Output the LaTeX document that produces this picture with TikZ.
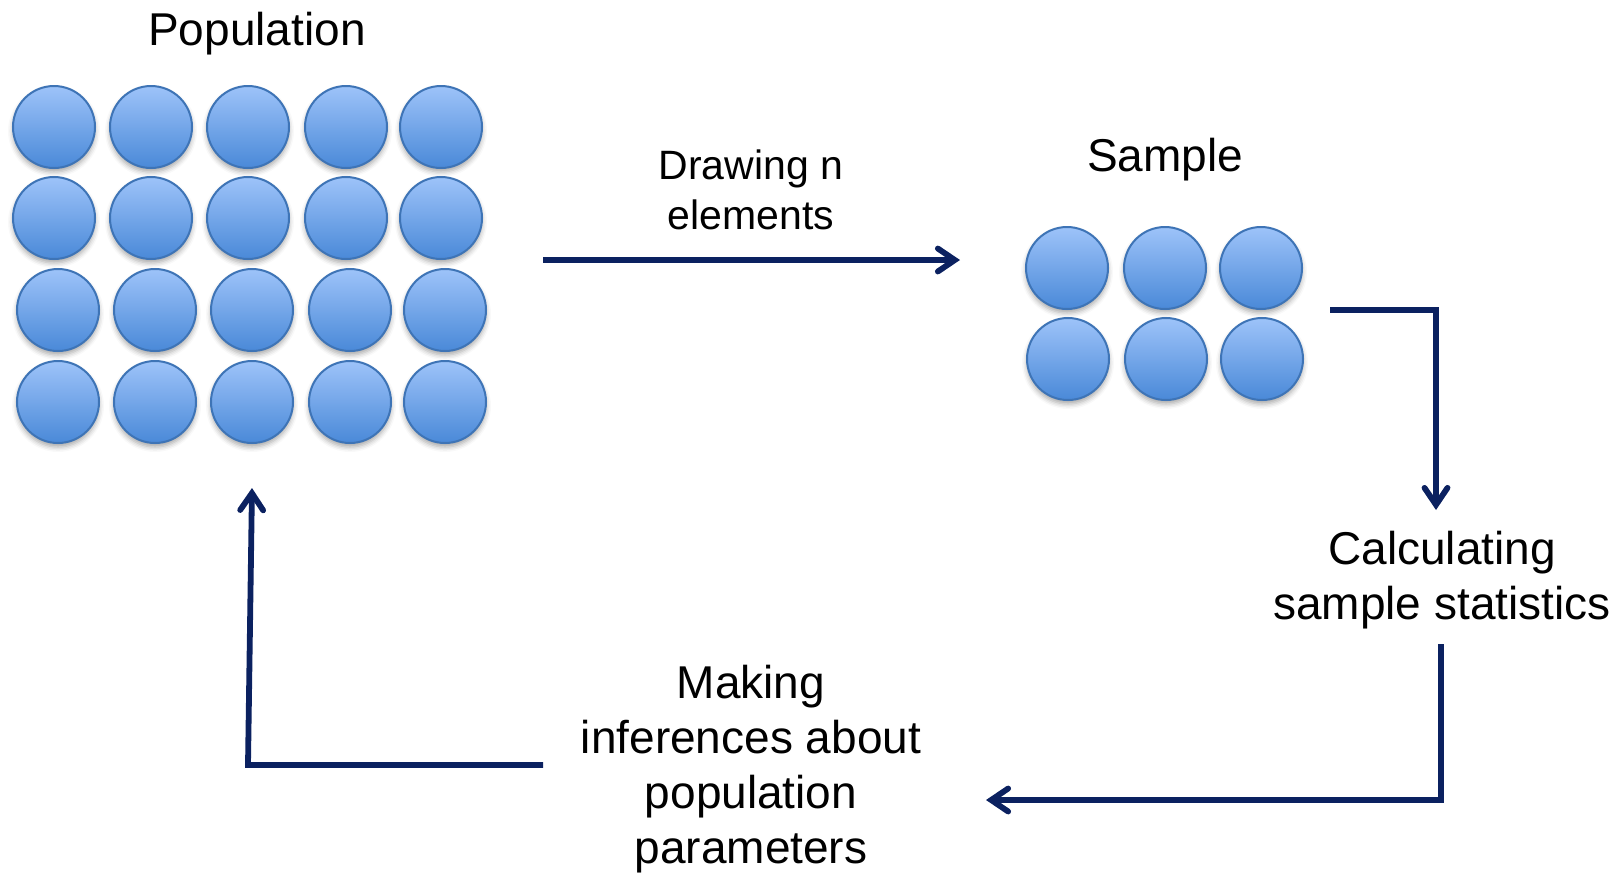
\documentclass[tikz,border=0pt]{standalone}
\usepackage{fontspec}
\setmainfont{Liberation Sans}
\usepackage{tikz}
\usetikzlibrary{arrows.meta,shadows.blur}

\definecolor{ballTop}{HTML}{9DC3F9}
\definecolor{ballBot}{HTML}{4A89D8}
\definecolor{ballEdge}{HTML}{3E74B6}
\definecolor{navy}{HTML}{0B2160}

\begin{document}
\begin{tikzpicture}[x=0.5pt,y=-0.5pt,
  ball/.style={circle,minimum size=41pt,inner sep=0pt,
    top color=ballTop,bottom color=ballBot,draw=ballEdge,line width=1pt,
    blur shadow={shadow xshift=0pt,shadow yshift=-2pt,shadow blur radius=2.5pt,shadow opacity=35}},
  flow/.style={draw=navy,line width=2.9pt,line join=miter,
    -{Straight Barb[length=8.5pt,width=11.5pt,line cap=round]}},
  big/.style={font=\fontsize{23}{27.5}\selectfont,align=center,inner sep=0pt},
  small/.style={font=\fontsize{20.5}{25}\selectfont,align=center,inner sep=0pt}]

\useasboundingbox (0,0) rectangle (1623,874);

% population: 4 rows of 5
\foreach \r/\y/\dx in {1/127/0,2/218/0,3/310/4,4/402/4}
 \foreach \c/\x in {1/54,2/151,3/248,4/346,5/441}
  \node[ball] (p\r\c) at (\x+\dx,\y) {};

% sample: 2 rows of 3
\foreach \r/\y/\dx in {1/268/0,2/359/1}
 \foreach \c/\x in {1/1067,2/1165,3/1261}
  \node[ball] (s\r\c) at (\x+\dx,\y) {};

% labels
\node[big] (pop) at (257,34) {Population};
\node[big] (smp) at (1165,160) {Sample};
\node[small] (draw) at (751,190) {Drawing n\\elements};
\node[big] (calc) at (1442,580) {Calculating\\sample statistics};
\node[big] (infer) at (751,769) {Making\\inferences about\\population\\parameters};

% arrow ends
\coordinate (d0) at (543,260);
\coordinate (d1) at (960,260);
\coordinate (c0) at (1330,310);
\coordinate (c1) at (1436,310);
\coordinate (c2) at (1436,510);
\coordinate (m0) at (1441,644);
\coordinate (m1) at (1441,800);
\coordinate (m2) at (986,800);
\coordinate (i0) at (543,765);
\coordinate (i1) at (248,765);
\coordinate (i2) at (252,488);

\draw[flow] (d0) -- (d1);
\draw[flow] (c0) -- (c1) -- (c2);
\draw[flow] (m0) -- (m1) -- (m2);
\draw[flow] (i0) -- (i1) -- (i2);

\end{tikzpicture}
\end{document}
